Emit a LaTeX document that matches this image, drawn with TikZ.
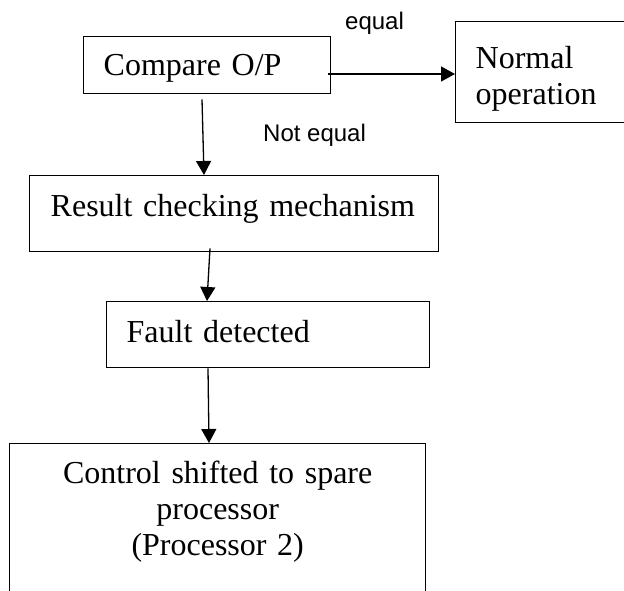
\documentclass[tikz,border=0pt]{standalone}
\usepackage{fontspec}
\setmainfont{Liberation Serif}
\newfontfamily\labfont{Liberation Sans}
\usetikzlibrary{arrows.meta,calc}
\tikzset{
  box/.style={draw=black, line width=1.4pt, inner sep=0pt, anchor=north west,
    font=\fontsize{32}{36}\selectfont},
  arr/.style={draw=black, line width=1.3pt, -{Triangle[length=14pt,width=15pt]}},
  lab/.style={inner sep=0pt, anchor=base west, font=\labfont\fontsize{24}{28}\selectfont}
}
\begin{document}
\begin{tikzpicture}[x=1pt,y=-1pt]
\useasboundingbox (0,0) rectangle (624,591);
\clip (0,0) rectangle (624,591);
\node[box, minimum width=247pt, minimum height=57pt, text width=207pt, align=left,
  text height=39pt, text depth=18pt] (cmp) at (83,36) {Compare O/P};
\node[box, minimum width=190pt, minimum height=101pt, text width=150pt, align=left,
  text height=47pt, text depth=54pt] (nrm) at (455,21) {Normal\\operation};
\node[box, minimum width=409pt, minimum height=76pt, text width=367pt, align=left,
  text height=41pt, text depth=35pt] (res) at (29,175) {Result checking mechanism};
\node[box, minimum width=323pt, minimum height=66pt, text width=283pt, align=left,
  text height=41pt, text depth=25pt] (flt) at (106,301) {Fault detected};
\node[box, minimum width=416pt, minimum height=177pt, text width=416pt, align=center,
  text height=40pt, text depth=137pt] (ctl) at (9,443) {Control shifted to spare\\processor\\(Processor 2)};
\node[lab] (leq) at (345,30) {equal};
\node[lab] (lneq) at (263,142) {Not equal};
\draw[arr] ($(cmp.north east)+(-3,38)$) -- ($(nrm.north west)+(0,53)$);
\draw[arr] ($(cmp.south west)+(119,5)$) -- ($(res.north west)+(175,0)$);
\draw[arr] ($(res.south west)+(181,-4)$) -- ($(flt.north west)+(101,0)$);
\draw[arr] ($(flt.south west)+(102,0)$) -- ($(ctl.north west)+(200,0)$);
\end{tikzpicture}
\end{document}
